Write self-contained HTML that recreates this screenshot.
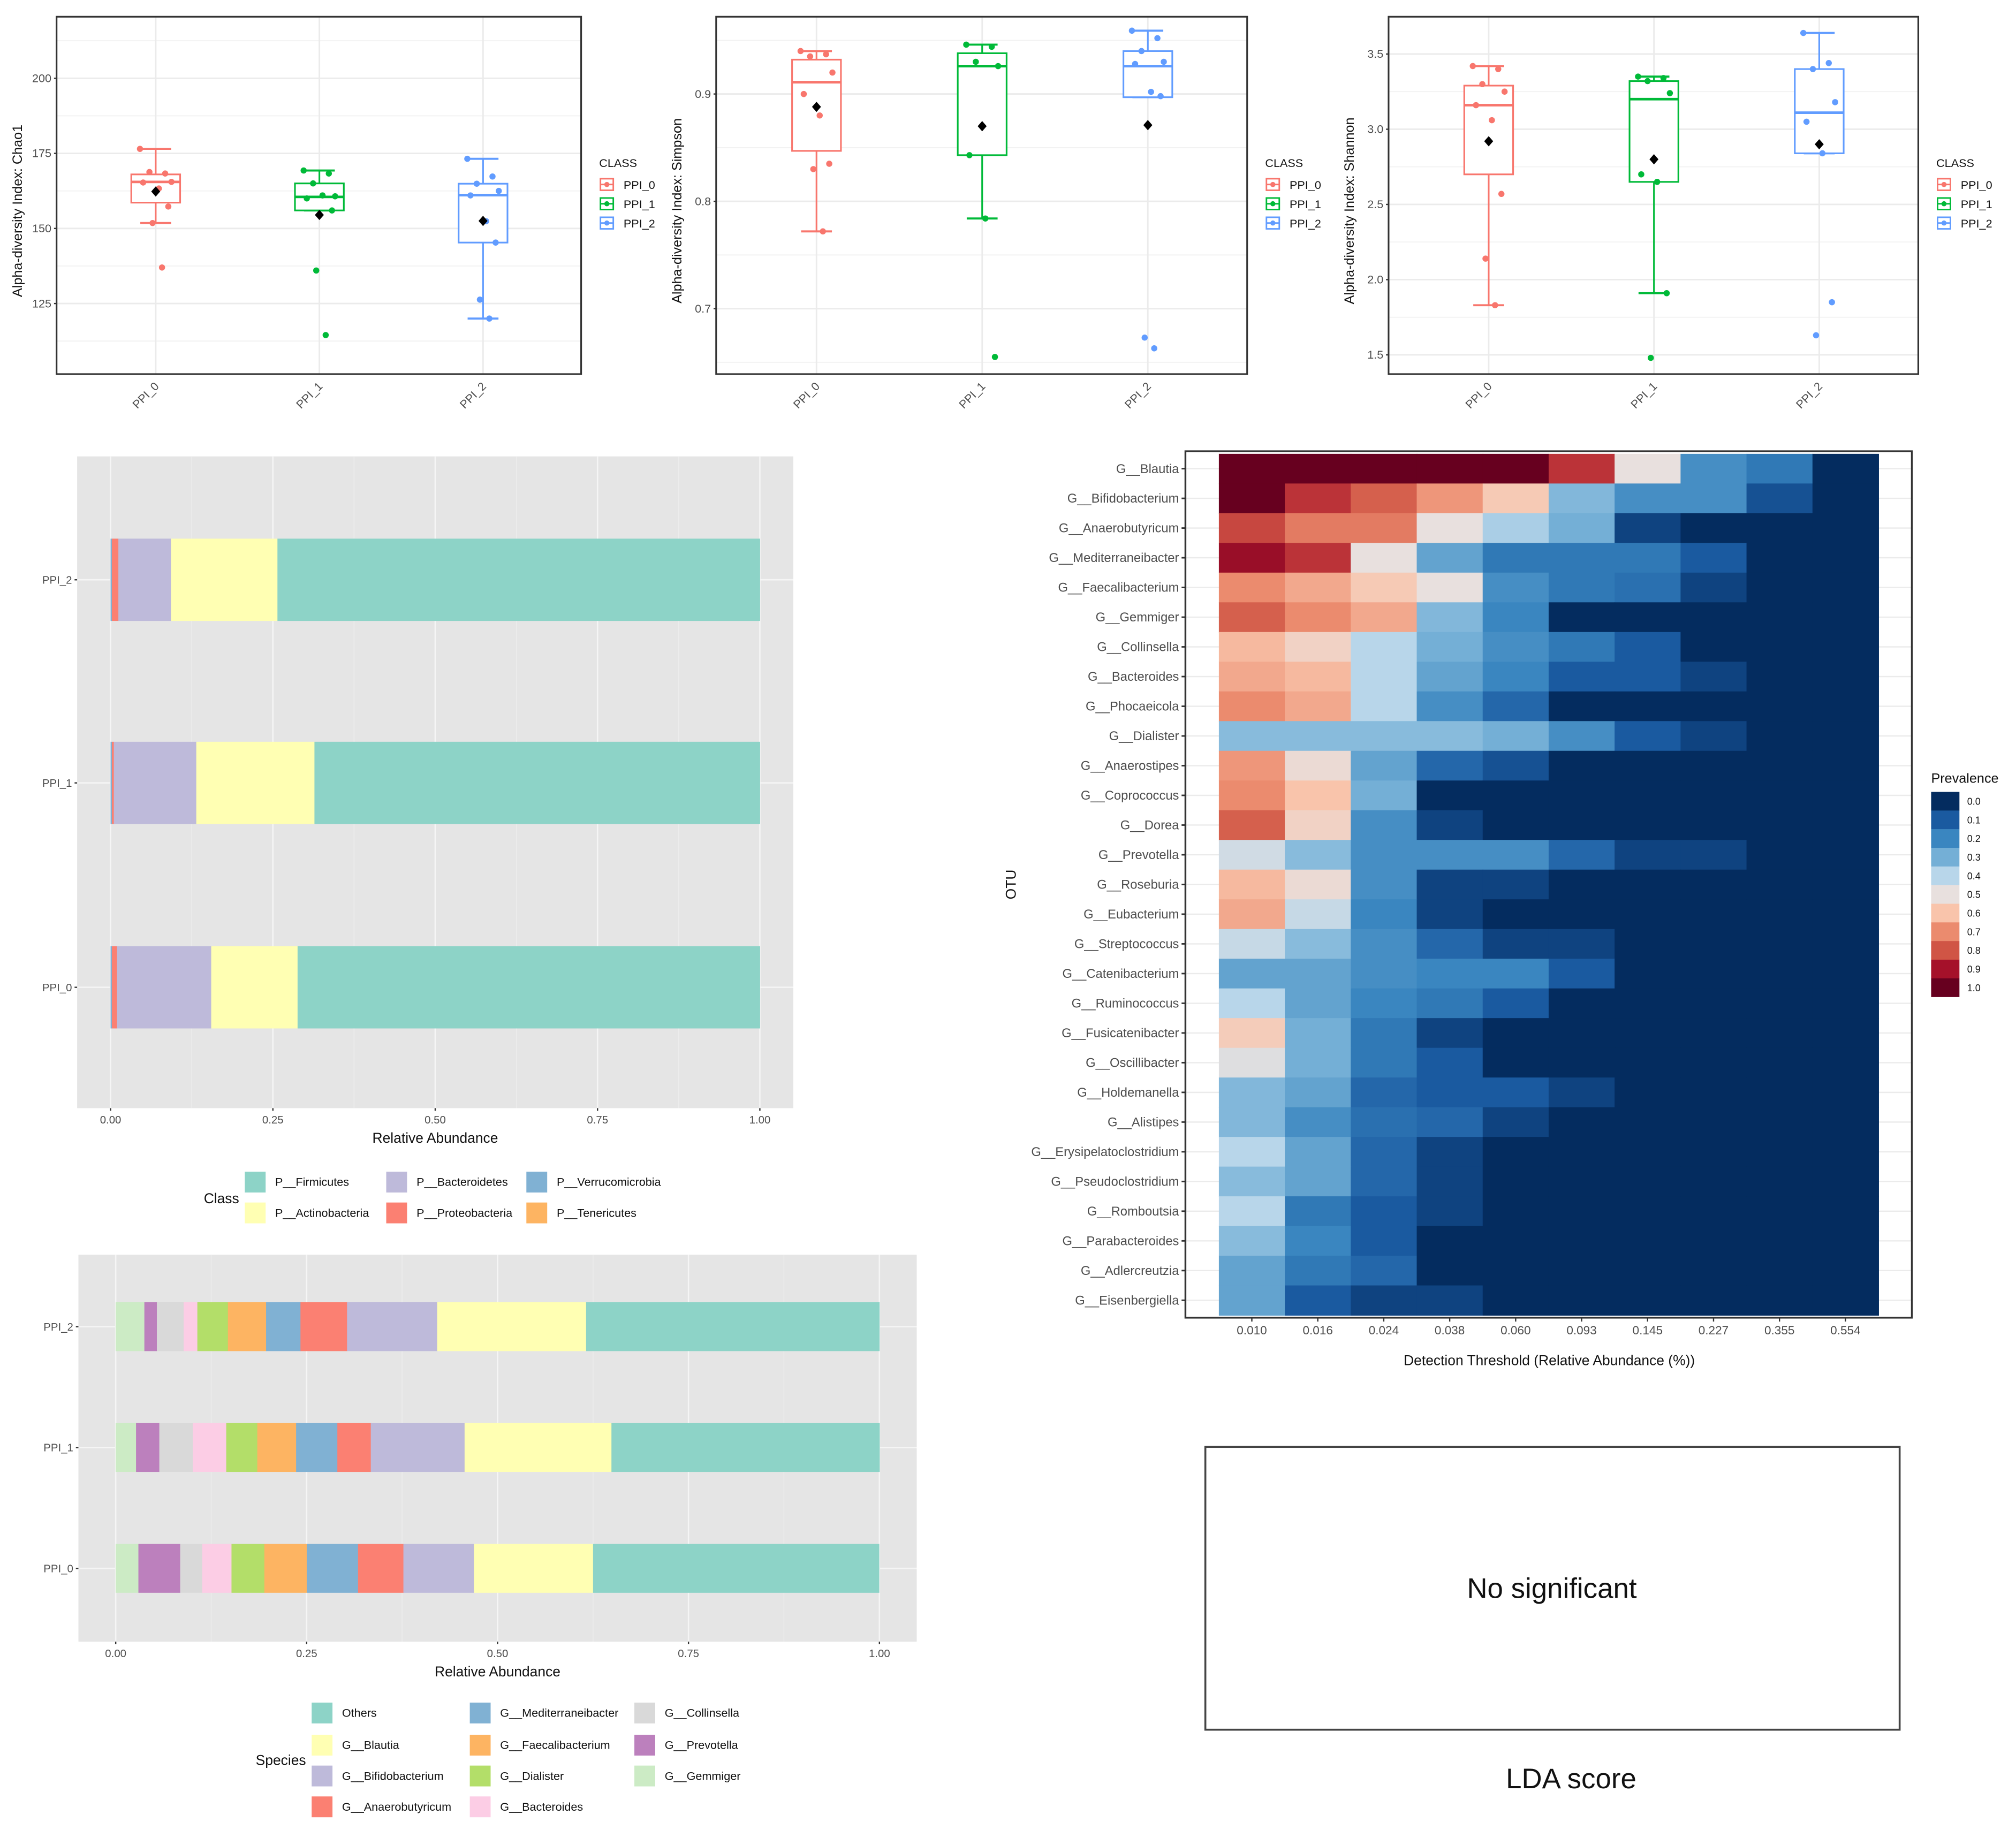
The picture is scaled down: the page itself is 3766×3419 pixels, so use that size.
<!DOCTYPE html>
<html><head><meta charset="utf-8"><style>
html,body{margin:0;padding:0;background:#fff;}
svg{display:block;font-family:"Liberation Sans",sans-serif;}
</style></head><body>
<svg id="root" width="3766" height="3419" viewBox="0 0 1568 1423.5" xmlns="http://www.w3.org/2000/svg">
<g id="box1"></g>
<g id="box2"></g>
<g id="box3"></g>
<g id="phy"></g>
<g id="spc"></g>
<g id="heat"></g>
<g>
<rect x="937.5" y="1125.5" width="540" height="220" fill="#fff" stroke="#444" stroke-width="1.5"/>
<text x="1207" y="1243" font-size="22" text-anchor="middle" fill="#111">No significant</text>
<text x="1222" y="1391" font-size="22" text-anchor="middle" fill="#111">LDA score</text>
</g>
</svg>
<script>
const NS='http://www.w3.org/2000/svg';
function mk(p,tag,a,txt){const e=document.createElementNS(NS,tag);for(const k in a)e.setAttribute(k,a[k]);if(txt!==undefined)e.textContent=txt;p.appendChild(e);return e;}

// ===== Boxplot data =====
const groups=['PPI_0','PPI_1','PPI_2'];
const chaoStats=[[151.8,158.6,165.5,168,176.5],[156,156,160.5,165,169.3],[120,145.3,161.1,164.9,173.2]];
const chaoMean=[162.3,154.5,152.5];
const chaoPts=[[176.5,168.3,168.8,165.5,165.3,163.3,157.3,151.8,137],[169.3,168.3,165,160.7,160,161,156,136,114.5],[173.2,167.3,164.9,162.5,161,152.4,145.3,126.3,120]];
const chaoTicks=[125,150,175,200];
const simpStats=[[0.772,0.847,0.911,0.932,0.94],[0.784,0.843,0.926,0.938,0.946],[0.897,0.897,0.926,0.94,0.959]];
const simpMean=[0.888,0.87,0.871];
const simpPts=[[0.94,0.937,0.935,0.92,0.9,0.88,0.835,0.83,0.772],[0.946,0.944,0.93,0.926,0.843,0.784,0.655],[0.959,0.952,0.94,0.93,0.928,0.902,0.898,0.673,0.663]];
const simpTicks=[0.7,0.8,0.9];
const shanStats=[[1.83,2.70,3.16,3.29,3.42],[1.91,2.65,3.2,3.32,3.35],[2.84,2.84,3.11,3.40,3.64]];
const shanMean=[2.92,2.8,2.9];
const shanPts=[[3.42,3.4,3.3,3.25,3.16,3.06,2.57,2.14,1.83],[3.35,3.34,3.32,3.24,2.7,2.65,1.91,1.48],[3.64,3.44,3.40,3.18,3.05,2.84,1.85,1.63]];
const shanTicks=[1.5,2.0,2.5,3.0,3.5];
const grpColors=['#F8766D','#00BA38','#619CFF'];
const jit=[-0.1,0.06,-0.04,0.1,-0.08,0.02,0.08,-0.02,0.04];

function boxplot(g,L,T,W,H,ymin,ymax,stats,means,pts,ticks,fmt,title,legX){
  const y=v=>T+H-(v-ymin)/(ymax-ymin)*H;
  const xs=i=>L+W*(i*0.312+0.189);
  for(let k=0;k<ticks.length+1;k++){
    const step=ticks[1]-ticks[0];const v=ticks[0]-step/2+k*step;
    if(v>ymin&&v<ymax){const l=mk(g,'line',{x1:L,x2:L+W,y1:y(v),y2:y(v),stroke:'#f2f2f2','stroke-width':0.8});}
  }
  ticks.forEach(t=>{
    const l=mk(g,'line',{x1:L,x2:L+W,y1:y(t),y2:y(t),stroke:'#ebebeb','stroke-width':1.2});
    
    const tx=mk(g,'text',{x:L-4,y:y(t)+3,'font-size':9,'text-anchor':'end',fill:'#4d4d4d'},fmt(t));
    
    mk(g,'line',{x1:L-2,x2:L,y1:y(t),y2:y(t),stroke:'#333'});
  });
  groups.forEach((gn,i)=>{
    const x=xs(i);
    const v=mk(g,'line',{x1:x,x2:x,y1:T,y2:T+H,stroke:'#ebebeb','stroke-width':1.2});
    
    const tx=mk(g,'text',{x:0,y:0,'font-size':9,'text-anchor':'end',fill:'#4d4d4d',transform:`translate(${x+3},${T+H+10}) rotate(-45)`},gn);
    
    const s=stats[i],c=grpColors[i],bw=19,cw=12;
    const bg=mk(g,'g',{});
    mk(bg,'line',{x1:x,x2:x,y1:y(s[4]),y2:y(s[3]),stroke:c,'stroke-width':1.3});
    mk(bg,'line',{x1:x,x2:x,y1:y(s[1]),y2:y(s[0]),stroke:c,'stroke-width':1.3});
    mk(bg,'line',{x1:x-cw,x2:x+cw,y1:y(s[4]),y2:y(s[4]),stroke:c,'stroke-width':1.6});
    mk(bg,'line',{x1:x-cw,x2:x+cw,y1:y(s[0]),y2:y(s[0]),stroke:c,'stroke-width':1.6});
    mk(bg,'rect',{x:x-bw,y:y(s[3]),width:bw*2,height:y(s[1])-y(s[3]),fill:'#fff',stroke:c,'stroke-width':1.3});
    mk(bg,'line',{x1:x-bw,x2:x+bw,y1:y(s[2]),y2:y(s[2]),stroke:c,'stroke-width':2});
    pts[i].forEach((p,j)=>{
      const d=mk(g,'circle',{cx:x+jit[j%jit.length]*W*0.3,cy:y(p),r:2.4,fill:c});
      
    });
    const m=mk(g,'path',{d:`M${x},${y(means[i])-4}L${x+3.5},${y(means[i])}L${x},${y(means[i])+4}L${x-3.5},${y(means[i])}Z`,fill:'#000'});
    
  });
  const fr=mk(g,'rect',{x:L,y:T,width:W,height:H,fill:'none',stroke:'#333','stroke-width':1.3});
  
  const yt=mk(g,'text',{x:0,y:0,'font-size':10.5,'text-anchor':'middle',fill:'#111',transform:`translate(${L-27},${T+H/2+12}) rotate(-90)`},title);
  
  const lt=mk(g,'text',{x:legX,y:130,'font-size':9,fill:'#111'},'CLASS');
  
  groups.forEach((gn,i)=>{
    const yy=138+i*15;
    const le=mk(g,'g',{});
    mk(le,'rect',{x:legX+1,y:yy+1,width:10,height:9,fill:'#fff',stroke:grpColors[i],'stroke-width':1.2});
    mk(le,'line',{x1:legX+1,x2:legX+11,y1:yy+5.5,y2:yy+5.5,stroke:grpColors[i],'stroke-width':1.2});
    mk(le,'circle',{cx:legX+6,cy:yy+5.5,r:2,fill:grpColors[i]});
    mk(le,'text',{x:legX+19,y:yy+9,'font-size':9,fill:'#111'},gn);
  });
}
boxplot(document.getElementById('box1'),44,13,408,278,101.5,220.5,chaoStats,chaoMean,chaoPts,chaoTicks,t=>String(t),'Alpha-diversity Index: Chao1',466);
boxplot(document.getElementById('box2'),557,13,413,278,0.639,0.972,simpStats,simpMean,simpPts,simpTicks,t=>t.toFixed(1),'Alpha-diversity Index: Simpson',984);
boxplot(document.getElementById('box3'),1080,13,412,278,1.372,3.748,shanStats,shanMean,shanPts,shanTicks,t=>t.toFixed(1),'Alpha-diversity Index: Shannon',1506);

// ===== Stacked bars =====
const barGroups=['PPI_0','PPI_1','PPI_2'];
const xTicks=[0,0.25,0.5,0.75,1];
const xTickLabels=['0.00','0.25','0.50','0.75','1.00'];
const phyla=['P__Verrucomicrobia','P__Proteobacteria','P__Bacteroidetes','P__Actinobacteria','P__Firmicutes'];
const phyColors=['#80B1D3','#FB8072','#BEBADA','#FFFFB3','#8DD3C7'];
const phyPPI0=[0.002,0.008,0.145,0.133,0.712];
const phyPPI1=[0.002,0.003,0.127,0.182,0.686];
const phyPPI2=[0.002,0.010,0.081,0.164,0.743];
const genera=['G__Gemmiger','G__Prevotella','G__Collinsella','G__Bacteroides','G__Dialister','G__Faecalibacterium','G__Mediterraneibacter','G__Anaerobutyricum','G__Bifidobacterium','G__Blautia','Others'];
const genColors=['#CCEBC5','#BC80BD','#D9D9D9','#FCCDE5','#B3DE69','#FDB462','#80B1D3','#FB8072','#BEBADA','#FFFFB3','#8DD3C7'];
const genPPI0=[0.0297,0.0547,0.0289,0.0383,0.043,0.0555,0.0672,0.0594,0.0923,0.156,0.3745];
const genPPI1=[0.0266,0.0305,0.0438,0.0438,0.0407,0.0508,0.054,0.0438,0.1228,0.1923,0.351];
const genPPI2=[0.0375,0.0164,0.035,0.018,0.040,0.050,0.045,0.061,0.118,0.195,0.384];

function stacked(g,L,T,W,H,x0,x1,rowsY,barH,series,cats,colors){
  mk(g,'rect',{x:L,y:T,width:W,height:H,fill:'#e5e5e5'});
  const x=v=>x0+v*(x1-x0);
  xTicks.forEach((t,i)=>{
    if(i<xTicks.length-1){const l=mk(g,'line',{x1:x(t+0.125),x2:x(t+0.125),y1:T,y2:T+H,stroke:'#ededed','stroke-width':0.6});}
    const l=mk(g,'line',{x1:x(t),x2:x(t),y1:T,y2:T+H,stroke:'#f5f5f5','stroke-width':1.1});
    
    mk(g,'line',{x1:x(t),x2:x(t),y1:T+H,y2:T+H+2,stroke:'#333'});
    const tx=mk(g,'text',{x:x(t),y:T+H+12,'font-size':8.5,'text-anchor':'middle',fill:'#4d4d4d'},xTickLabels[i]);
    
  });
  barGroups.forEach((gn,r)=>{
    const cy=rowsY[r];
    const l=mk(g,'line',{x1:L,x2:L+W,y1:cy,y2:cy,stroke:'#f5f5f5','stroke-width':1.1});
    
    mk(g,'line',{x1:L-2,x2:L,y1:cy,y2:cy,stroke:'#333'});
    const tx=mk(g,'text',{x:L-4,y:cy+3,'font-size':8.5,'text-anchor':'end',fill:'#4d4d4d'},gn);
    
    let acc=0;
    series[r].forEach((v,k)=>{
      const rc=mk(g,'rect',{x:x(acc),y:cy-barH/2,width:x(acc+v)-x(acc)+0.2,height:barH,fill:colors[k]});
      
      acc+=v;
    });
  });
  const t=mk(g,'text',{x:(x0+x1)/2,y:T+H+27,'font-size':11,'text-anchor':'middle',fill:'#111'},'Relative Abundance');
  
}
function legend(g,title,tx,ty,cols,items,colors){
  const t=mk(g,'text',{x:tx,y:ty,'font-size':11,'text-anchor':'end',fill:'#111'},title);
  
  items.forEach(it=>{
    const e=mk(g,'g',{});
    mk(e,'rect',{x:it[1],y:it[2]-8,width:17,height:17,fill:colors[it[0]],stroke:'#fff','stroke-width':0.8});
    mk(e,'text',{x:it[1]+24,y:it[2]+3.5,'font-size':9,fill:'#111'},it[3]);
  });
}
const phy=document.getElementById('phy');
stacked(phy,60,355,557,507,86,591,[768,609,451],64,[phyPPI0,phyPPI1,phyPPI2],phyla,phyColors);
legend(phy,'Class',186,936,3,[[4,190,919,'P__Firmicutes'],[3,190,943,'P__Actinobacteria'],[2,300,919,'P__Bacteroidetes'],[1,300,943,'P__Proteobacteria'],[0,409,919,'P__Verrucomicrobia'],[5,409,943,'P__Tenericutes']],phyColors.concat(['#FDB462']));
const spc=document.getElementById('spc');
stacked(spc,61,976,652,301,90,684,[1220,1126,1032],38,[genPPI0,genPPI1,genPPI2],genera,genColors);
legend(spc,'Species',238,1373,3,[[10,242,1332,'Others'],[9,242,1357,'G__Blautia'],[8,242,1381,'G__Bifidobacterium'],[7,242,1405,'G__Anaerobutyricum'],[6,365,1332,'G__Mediterraneibacter'],[5,365,1357,'G__Faecalibacterium'],[4,365,1381,'G__Dialister'],[3,365,1405,'G__Bacteroides'],[2,493,1332,'G__Collinsella'],[1,493,1357,'G__Prevotella'],[0,493,1381,'G__Gemmiger']],genColors);

// ===== Heatmap =====
const otus=['G__Blautia','G__Bifidobacterium','G__Anaerobutyricum','G__Mediterraneibacter','G__Faecalibacterium','G__Gemmiger','G__Collinsella','G__Bacteroides','G__Phocaeicola','G__Dialister','G__Anaerostipes','G__Coprococcus','G__Dorea','G__Prevotella','G__Roseburia','G__Eubacterium','G__Streptococcus','G__Catenibacterium','G__Ruminococcus','G__Fusicatenibacter','G__Oscillibacter','G__Holdemanella','G__Alistipes','G__Erysipelatoclostridium','G__Pseudoclostridium','G__Romboutsia','G__Parabacteroides','G__Adlercreutzia','G__Eisenbergiella'];
const thresholds=['0.010','0.016','0.024','0.038','0.060','0.093','0.145','0.227','0.355','0.554'];
const prevalence=[
[1,1,1,1,1,0.85,0.5,0.22,0.17,0],
[1,0.85,0.78,0.68,0.58,0.32,0.22,0.22,0.08,0],
[0.82,0.73,0.73,0.5,0.38,0.3,0.05,0,0,0],
[0.92,0.85,0.5,0.27,0.17,0.17,0.17,0.1,0,0],
[0.7,0.65,0.58,0.5,0.22,0.17,0.15,0.05,0,0],
[0.78,0.7,0.65,0.32,0.2,0,0,0,0,0],
[0.62,0.55,0.4,0.3,0.22,0.17,0.1,0,0,0],
[0.65,0.62,0.4,0.27,0.2,0.1,0.1,0.05,0,0],
[0.7,0.65,0.4,0.22,0.13,0,0,0,0,0],
[0.33,0.33,0.33,0.33,0.3,0.22,0.1,0.05,0,0],
[0.68,0.52,0.27,0.13,0.08,0,0,0,0,0],
[0.7,0.6,0.3,0,0,0,0,0,0,0],
[0.78,0.55,0.22,0.05,0,0,0,0,0,0],
[0.45,0.33,0.22,0.22,0.22,0.13,0.05,0.05,0,0],
[0.62,0.52,0.22,0.05,0.05,0,0,0,0,0],
[0.65,0.43,0.2,0.05,0,0,0,0,0,0],
[0.43,0.33,0.22,0.13,0.05,0.05,0,0,0,0],
[0.27,0.27,0.22,0.2,0.2,0.1,0,0,0,0],
[0.4,0.27,0.2,0.17,0.1,0,0,0,0,0],
[0.57,0.3,0.17,0.05,0,0,0,0,0,0],
[0.48,0.3,0.17,0.1,0,0,0,0,0,0],
[0.32,0.27,0.13,0.1,0.1,0.05,0,0,0,0],
[0.32,0.22,0.15,0.13,0.05,0,0,0,0,0],
[0.4,0.27,0.13,0.05,0,0,0,0,0,0],
[0.33,0.27,0.13,0.05,0,0,0,0,0,0],
[0.4,0.17,0.1,0.05,0,0,0,0,0,0],
[0.33,0.2,0.1,0,0,0,0,0,0,0],
[0.27,0.17,0.13,0,0,0,0,0,0,0],
[0.27,0.1,0.05,0.05,0,0,0,0,0,0]];
const legendTicks=['0.0','0.1','0.2','0.3','0.4','0.5','0.6','0.7','0.8','0.9','1.0'];
const scale=['#042c5f','#1a5aa0','#3a86c0','#74afd6','#b8d6ea','#e8e0de','#f9c4ab','#eb8b6e','#d05545','#a5112a','#67001f'];
function hex(c){return [1,3,5].map(i=>parseInt(c.substr(i,2),16));}
function colorAt(v){v=Math.max(0,Math.min(1,v))*10;const i=Math.min(9,Math.floor(v)),f=v-i;const a=hex(scale[i]),b=hex(scale[i+1]);return 'rgb('+a.map((x,k)=>Math.round(x+(b[k]-x)*f)).join(',')+')';}
(function(){
  const g=document.getElementById('heat');
  const L=922,T=351,W=565,H=674,cx0=948,cx1=1461,cy0=353,cy1=1023;
  const cw=(cx1-cx0)/thresholds.length,ch=(cy1-cy0)/otus.length;
  otus.forEach((o,r)=>{
    const y=cy0+ch*(r+0.5);
    const l=mk(g,'line',{x1:L,x2:L+W,y1:y,y2:y,stroke:'#ebebeb'});
    mk(g,'line',{x1:L-3,x2:L,y1:y,y2:y,stroke:'#333','stroke-width':1.2});
    const t=mk(g,'text',{x:L-5,y:y+3.4,'font-size':9.9,'text-anchor':'end',fill:'#4d4d4d'},o);
    
  });
  prevalence.forEach((row,r)=>row.forEach((v,c)=>{
    const rc=mk(g,'rect',{x:cx0+c*cw,y:cy0+r*ch,width:cw+0.4,height:ch+0.4,fill:colorAt(v)});
    
  }));
  thresholds.forEach((t,c)=>{
    const x=cx0+cw*(c+0.5);
    mk(g,'line',{x1:x,x2:x,y1:T+H,y2:T+H+3,stroke:'#333'});
    const tx=mk(g,'text',{x:x,y:T+H+13,'font-size':9.4,'text-anchor':'middle',fill:'#4d4d4d'},t);
    
  });
  const fr=mk(g,'rect',{x:L,y:T,width:W,height:H,fill:'none',stroke:'#333','stroke-width':1.4});
  
  const xt=mk(g,'text',{x:1205,y:1062,'font-size':11,'text-anchor':'middle',fill:'#111'},'Detection Threshold (Relative Abundance (%))');
  
  const yt=mk(g,'text',{x:0,y:0,'font-size':11,'text-anchor':'middle',fill:'#111',transform:'translate(790,688) rotate(-90)'},'OTU');
  
  const lt=mk(g,'text',{x:1502,y:609,'font-size':10.5,fill:'#111'},'Prevalence');
  
  legendTicks.forEach((t,i)=>{
    const y=616+i*14.5;
    const rc=mk(g,'rect',{x:1502,y:y,width:22,height:14.6,fill:colorAt(parseFloat(t))});
    
    const tx=mk(g,'text',{x:1530,y:y+10,'font-size':7.5,fill:'#111'},t);
    
  });
})();
</script>
</body></html>
